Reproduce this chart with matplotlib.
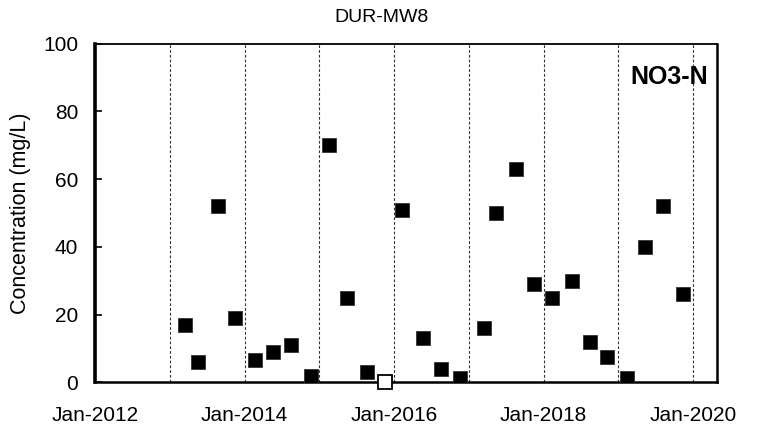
import datetime as dt
import matplotlib
matplotlib.use('Agg')
import matplotlib.pyplot as plt
import matplotlib.dates as mdates

plt.rcParams['font.family'] = ['Liberation Sans', 'DejaVu Sans']

# detected NO3-N results
dates = ['2013-03-18', '2013-05-16', '2013-08-22', '2013-11-16',
         '2014-02-22', '2014-05-20', '2014-08-15', '2014-11-21',
         '2015-02-17', '2015-05-16', '2015-08-21',
         '2016-02-11', '2016-05-19', '2016-08-15', '2016-11-20',
         '2017-03-17', '2017-05-15', '2017-08-18', '2017-11-13',
         '2018-02-10', '2018-05-18', '2018-08-13', '2018-11-08',
         '2019-02-14', '2019-05-13', '2019-08-08', '2019-11-13']
values = [17, 6, 52, 19,
          6.5, 9, 11, 2,
          70, 25, 3,
          51, 13, 4, 1.2,
          16, 50, 63, 29,
          25, 30, 12, 7.6,
          1.2, 40, 52, 26]

# non-detect results
nd_dates = ['2015-11-17']
nd_values = [0]

year_lines = [2013, 2014, 2015, 2016, 2017, 2018, 2019, 2020]
tick_years = [2012, 2014, 2016, 2018, 2020]

def to_dt(s):
    return dt.datetime.strptime(s, '%Y-%m-%d')

x = [to_dt(d) for d in dates]
x_nd = [to_dt(d) for d in nd_dates]

fig = plt.figure(figsize=(7.59, 4.33), dpi=100)
ax = fig.add_axes([95/759, 1 - 382.3/433, (717.3 - 95)/759, (382.3 - 43.5)/433])

for yr in year_lines:
    ax.axvline(dt.datetime(yr, 1, 1), color='#333333', lw=0.8,
               linestyle=(0, (2.5, 1.8)), zorder=1)

ax.plot(x, values, linestyle='none', marker='s', ms=9.8,
        mfc='black', mec='#333333', mew=0.6, zorder=3)
ax.plot(x_nd, nd_values, linestyle='none', marker='s', ms=9.8,
        mfc='white', mec='black', mew=1.3, zorder=4, clip_on=False)

ax.set_xlim(dt.datetime(2012, 1, 1), dt.datetime(2020, 4, 28))
ax.set_ylim(0, 100)
ax.set_yticks([0, 20, 40, 60, 80, 100])
ax.set_xticks([dt.datetime(y, 1, 1) for y in tick_years])
ax.xaxis.set_major_formatter(mdates.DateFormatter('%b-%Y'))

ax.tick_params(axis='y', direction='in', length=5, width=1.2,
               labelsize=15, pad=12)
ax.tick_params(axis='x', length=0, labelsize=15, pad=17)

ax.spines['left'].set_linewidth(2.6)
ax.spines['bottom'].set_linewidth(1.8)
ax.spines['top'].set_linewidth(1.3)
ax.spines['right'].set_linewidth(1.8)

ax.set_ylabel('Concentration (mg/L)', fontsize=15.5, labelpad=9)
fig.text(0.502, 1 - 17/433, 'DUR-MW8', ha='center', va='center', fontsize=14)
ax.text(0.985, 0.9, 'NO3-N', transform=ax.transAxes, ha='right', va='center',
        fontsize=18, fontweight='bold')

fig.savefig('out.png', dpi=100)
